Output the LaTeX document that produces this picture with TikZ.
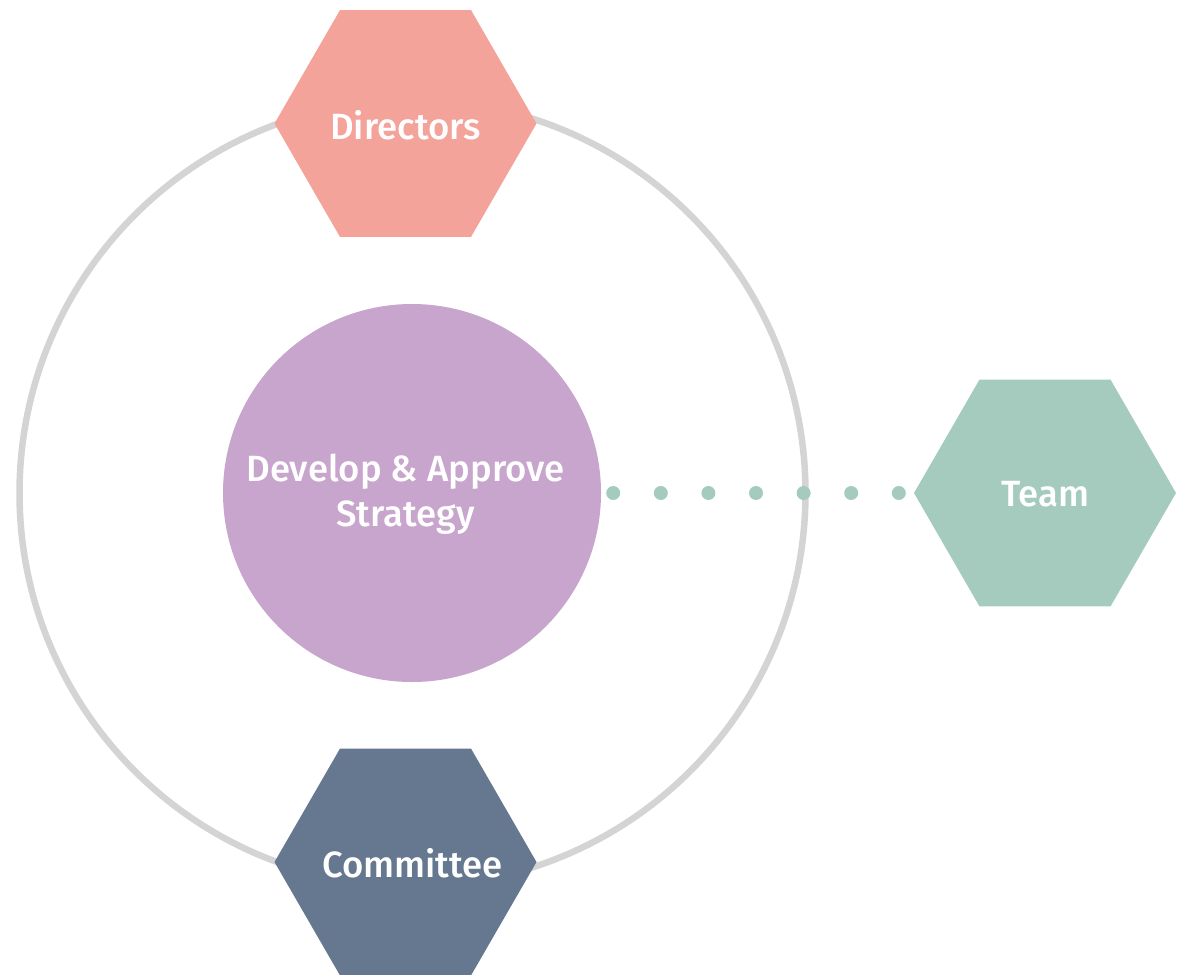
\documentclass[tikz,border=0pt]{standalone}
\usepackage{fontspec}
\newfontfamily\lblfont{Fira Sans Medium}
\usetikzlibrary{shapes.geometric}
\definecolor{ringgray}{HTML}{D4D4D4}
\definecolor{dirpink}{HTML}{F3A399}
\definecolor{compurple}{HTML}{C8A5CC}
\definecolor{commslate}{HTML}{65788F}
\definecolor{teamgreen}{HTML}{A5CBBE}
\tikzset{
  hexa/.style={regular polygon, regular polygon sides=6, minimum size=262pt,
    inner sep=0pt, outer sep=0pt},
  lbl/.style={text=white, inner sep=0pt, align=center, font=\lblfont\fontsize{36.5}{45}\selectfont},
  ring/.style={draw=ringgray, line width=6.5pt},
  dotline/.style={draw=teamgreen, line width=14pt, line cap=round, dash pattern=on 0pt off 47.6pt}
}
\begin{document}
\begin{tikzpicture}[x=1pt,y=-1pt]
\useasboundingbox (0,0) rectangle (1182,974);
\node[circle, minimum size=786pt, inner sep=0pt, ring] (ring) at (412.5,493) {};
\node[circle, fill=compurple, minimum size=378pt, inner sep=0pt] (core) at (412,493) {};
\node[lbl] (coretext) at (405.5,494) {Develop \& Approve\\Strategy};
\coordinate (dotstart) at ([xshift=12pt]core.east);
\node[hexa, fill=teamgreen] (team) at (1045,493) {};
\node[lbl] (teamtext) at (1045,494) {Team};
\coordinate (dotend) at ([xshift=-14pt]team.west);
\draw[dotline] (dotstart) -- (dotend);
\node[hexa, fill=dirpink] (dir) at (405.5,123.5) {};
\node[lbl] (dirtext) at (405.5,125) {Directors};
\node[hexa, fill=commslate] (comm) at (405.5,862) {};
\node[lbl] (commtext) at (412.5,863) {Committee};
\end{tikzpicture}
\end{document}
